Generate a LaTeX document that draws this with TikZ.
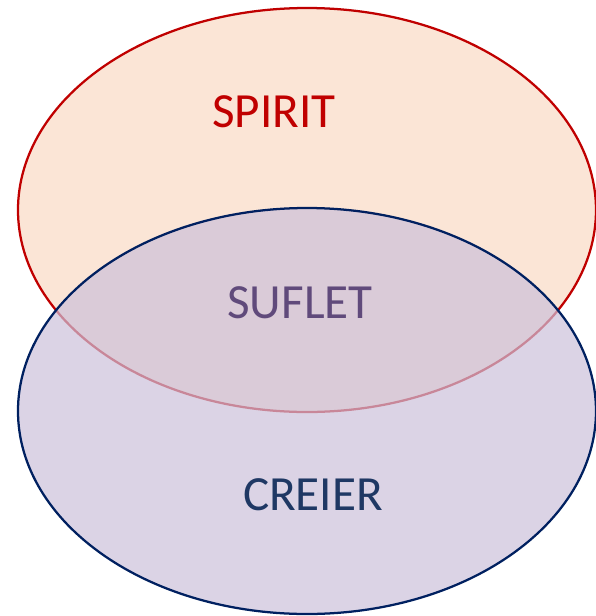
\documentclass[tikz,border=0pt]{standalone}
\usepackage{fontspec}
\setmainfont{Carlito}
\usetikzlibrary{positioning}
\definecolor{spiritred}{HTML}{C00000}
\definecolor{spiritfill}{HTML}{FBE5D6}
\definecolor{creiernavy}{HTML}{002060}
\definecolor{creierfill}{HTML}{CCC1DA}
\definecolor{sufletpurple}{HTML}{604A7B}
\definecolor{creiertext}{HTML}{1F3864}

\begin{document}
\begin{tikzpicture}[
  x=0.02646cm, y=-0.02646cm,
  setbox/.style={line width=1.7pt},
  setlab/.style={font=\fontsize{37}{39}\selectfont, inner sep=0pt}
]
\useasboundingbox (0,0) rectangle (595,616);

% ---------- Sets ----------
\draw[setbox, draw=spiritred, fill=spiritfill] (307,210) ellipse [x radius=289, y radius=202];
\draw[setbox, draw=creiernavy, fill=creierfill, fill opacity=0.7] (307,411) ellipse [x radius=289, y radius=203];

% ---------- Labels ----------
\node[setlab, text=spiritred] (spirit) at (274,112) {SPIRIT};
\node[setlab, text=sufletpurple] (suflet) at (300,303) {SUFLET};
\node[setlab, text=creiertext] (creier) at (313,495) {CREIER};

\end{tikzpicture}
\end{document}
